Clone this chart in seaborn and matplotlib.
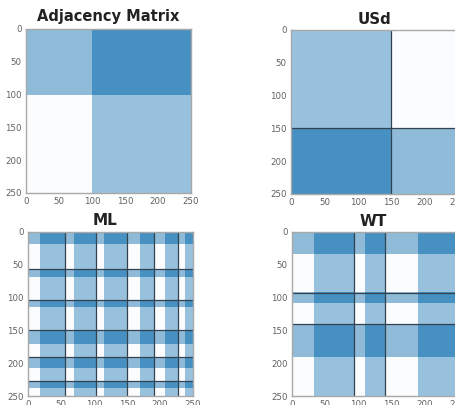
import numpy as np
import matplotlib
matplotlib.use("Agg")
import matplotlib.pyplot as plt
from matplotlib.colors import LinearSegmentedColormap
import seaborn as sns

sns.set_style("white")

TICKS = [0, 50, 100, 150, 200, 250]

# Block sizes and densities
adj_sizes = [100, 150]
adj_density = [[0.50, 0.82], [0.02, 0.46]]
adj_lines = []

usd_sizes = [150, 100]
usd_density = [[0.46, 0.02], [0.82, 0.50]]
usd_lines = [150]

ml_row_sizes = [18, 38, 12, 35, 12, 35, 20, 21, 17, 19, 11, 12]
ml_col_sizes = [18, 38, 14, 33, 12, 35, 20, 21, 17, 19, 11, 12]
ml_row_type = [0, 1, 0, 1, 0, 1, 0, 1, 0, 1, 0, 1]
ml_col_type = [0, 1, 0, 1, 0, 1, 0, 1, 0, 1, 0, 1]
ml_lines = [56, 103, 150, 191, 227]

wt_row_sizes = [33, 59, 16, 32, 50, 60]
wt_col_sizes = [33, 60, 17, 30, 50, 60]
wt_row_type = [0, 1, 0, 1, 0, 1]
wt_col_type = [0, 1, 0, 1, 0, 1]
wt_lines = [93, 140]

type_density = [[0.50, 0.82], [0.02, 0.46]]

titles = ["Adjacency Matrix", "USd", "ML", "WT"]
title_sizes = [10.5, 10.8, 11, 11]
title_x = [0.5, 0.5, 0.467, 0.49]
title_pad = [5.5, 4, 5, 4.5]
# left, top, width, height in pixels
boxes = [(26, 29, 165, 164), (291, 30, 167, 164), (28, 232, 165, 164), (292, 232, 166, 164)]

W, H = 456, 405
cmap = LinearSegmentedColormap.from_list("spy", ["#ffffff", "#1f77b4"])


def blocks(row_sizes, col_sizes, density):
    return np.repeat(np.repeat(np.array(density, float), row_sizes, axis=0), col_sizes, axis=1)


def typed(row_type, col_type):
    return [[type_density[r][c] for c in col_type] for r in row_type]


matrices = [
    blocks(adj_sizes, adj_sizes, adj_density),
    blocks(usd_sizes, usd_sizes, usd_density),
    blocks(ml_row_sizes, ml_col_sizes, typed(ml_row_type, ml_col_type)),
    blocks(wt_row_sizes, wt_col_sizes, typed(wt_row_type, wt_col_type)),
]
lines = [adj_lines, usd_lines, ml_lines, wt_lines]

fig = plt.figure(figsize=(W / 100, H / 100), dpi=100, facecolor="white")
for i, (m, ln, title, (l, t, w, h)) in enumerate(zip(matrices, lines, titles, boxes)):
    ax = fig.add_axes([l / W, 1 - (t + h) / H, w / W, h / H])
    sns.heatmap(m, ax=ax, cmap=cmap, vmin=0, vmax=1, cbar=False,
                xticklabels=False, yticklabels=False)
    for v in ln:
        ax.axhline(v, color="#33424f", lw=0.9)
        ax.axvline(v, color="#33424f", lw=0.9)
    ax.set_xticks(TICKS)
    ax.set_yticks(TICKS)
    ax.set_xticklabels(TICKS)
    ax.set_yticklabels(TICKS)
    ax.tick_params(labelsize=6.2, labelcolor="#606060", length=0, pad=3,
                   bottom=True, left=True, labelrotation=0)
    for s in ax.spines.values():
        s.set_visible(True)
        s.set_color("#a8a8a8")
        s.set_linewidth(1)
    ax.set_title(title, fontsize=title_sizes[i], fontweight="bold", color="#222222",
                 pad=title_pad[i], x=title_x[i])

fig.savefig("out.png", dpi=100)
